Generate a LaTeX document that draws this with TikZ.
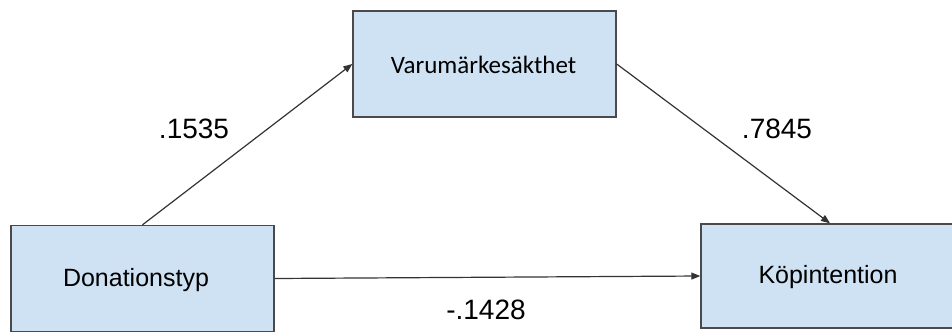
\documentclass[tikz,border=0pt]{standalone}
\usepackage{fontspec}
\setmainfont{Liberation Sans}
\newfontfamily\calibrifont{Carlito}
\usetikzlibrary{arrows.meta}
\definecolor{boxfill}{HTML}{CFE2F3}
\definecolor{boxline}{HTML}{4A4A4A}
\definecolor{arrowline}{HTML}{333333}
\begin{document}
\begin{tikzpicture}[x=1pt,y=-1pt,
  varbox/.style={draw=boxline,fill=boxfill,line width=1.4pt,rectangle,inner sep=0pt},
  boxtext/.style={inner sep=0pt,font=\fontsize{25}{30}\selectfont},
  coef/.style={inner sep=0pt,font=\fontsize{28}{33}\selectfont},
  path/.style={draw=arrowline,line width=1.2pt,-{Triangle[length=9pt,width=7pt]}}]
  \useasboundingbox (0,0) rectangle (952,332);
  \clip (0,0) rectangle (952,332);
  % variable boxes
  \node[varbox,minimum width=263pt,minimum height=106pt] (d) at (142.5,278.5) {};
  \node[varbox,minimum width=263pt,minimum height=106pt] (v) at (484.5,64) {};
  \node[varbox,minimum width=258pt,minimum height=104pt] (k) at (830,276) {};
  % box captions
  \node[boxtext] (dt) at (136,280) {Donationstyp};
  \node[boxtext,font=\calibrifont\fontsize{25}{30}\selectfont] (vt) at (483.5,65) {Varumärkesäkthet};
  \node[boxtext] (kt) at (828,277) {Köpintention};
  % paths between the variables
  \draw[path] (d.north) -- (v.west);
  \draw[path] (v.east) -- (k.north);
  \draw[path] (d.east) -- (k.west);
  % path coefficients
  \node[coef] (a) at (194,129) {.1535};
  \node[coef] (b) at (777,129) {.7845};
  \node[coef] (c) at (486,310) {-.1428};
\end{tikzpicture}
\end{document}
